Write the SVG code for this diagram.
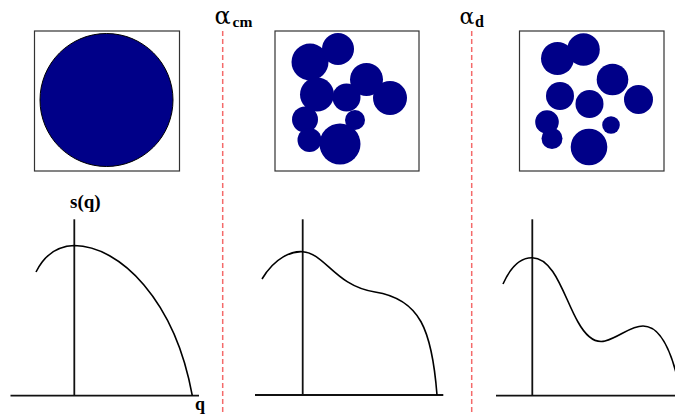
<svg xmlns="http://www.w3.org/2000/svg" width="675" height="415" viewBox="0 0 675 415">
<style>
.box{fill:#fff;stroke:#333;stroke-width:1.2}
.dot{fill:#000088}
.sep{stroke:#f46a6a;stroke-width:1.5;stroke-dasharray:5,3;fill:none}
.axis{stroke:#111;stroke-width:1.8;fill:none}
.curve{stroke:#000;stroke-width:1.6;fill:none}
.lbl{font-family:"Liberation Serif","Times New Roman",serif;font-weight:bold;fill:#000}
.alpha{font-family:"DejaVu Serif","Liberation Serif",serif;fill:#000}
</style>
<rect width="675" height="415" fill="#fff"/>
<g id="box-uniform">
<rect class="box" x="34.5" y="31" width="145" height="140"/>
<circle cx="106.5" cy="100" r="66.5" fill="#000088" stroke="#000" stroke-width="1"/>
</g>
<g id="box-clustered">
<rect class="box" x="275" y="31" width="144" height="140"/>
<circle class="dot" cx="310" cy="62" r="18.5"/>
<circle class="dot" cx="338" cy="49" r="16"/>
<circle class="dot" cx="366.5" cy="79.5" r="16.5"/>
<circle class="dot" cx="390" cy="98" r="17"/>
<circle class="dot" cx="346.5" cy="97.5" r="14"/>
<circle class="dot" cx="317" cy="94.5" r="17"/>
<circle class="dot" cx="305" cy="119.5" r="13"/>
<circle class="dot" cx="355" cy="120" r="10"/>
<circle class="dot" cx="309.5" cy="140" r="12"/>
<circle class="dot" cx="340" cy="144" r="20.5"/>
</g>
<g id="box-dispersed">
<rect class="box" x="519.5" y="31" width="144.5" height="140"/>
<circle class="dot" cx="557.5" cy="58.5" r="16.5"/>
<circle class="dot" cx="583.5" cy="49.5" r="16.3"/>
<circle class="dot" cx="612.5" cy="79.5" r="15.8"/>
<circle class="dot" cx="560" cy="96" r="14"/>
<circle class="dot" cx="589.5" cy="104" r="14"/>
<circle class="dot" cx="638.5" cy="99.5" r="14.5"/>
<circle class="dot" cx="547" cy="122" r="11.8"/>
<circle class="dot" cx="552" cy="138.5" r="10.5"/>
<circle class="dot" cx="611" cy="125" r="8.8"/>
<circle class="dot" cx="589" cy="147" r="18.3"/>
</g>
<g id="separators">
<line class="sep" x1="222.7" y1="31" x2="222.7" y2="415"/>
<line class="sep" x1="471.7" y1="31" x2="471.7" y2="415"/>
</g>
<g id="label-alpha-cm">
<text class="alpha" x="214.5" y="23.5" font-size="24">α</text>
<text class="lbl" x="232.5" y="26.5" font-size="15.5">cm</text>
</g>
<g id="label-alpha-d">
<text class="alpha" x="459.5" y="23.5" font-size="22">α</text>
<text class="lbl" x="475" y="26.5" font-size="16">d</text>
</g>
<g id="graph-1">
<line class="axis" x1="10.5" y1="395.7" x2="199" y2="395.7"/>
<line class="axis" x1="74.3" y1="219.3" x2="74.3" y2="395.7"/>
<path class="curve" d="M36,272 C44,256 56,246 74.3,245.5 C120,246 175,300 192.3,395.7"/>
<text class="lbl" x="70" y="208" font-size="19">s(q)</text>
<text class="lbl" x="195" y="410" font-size="18">q</text>
</g>
<g id="graph-2">
<line class="axis" x1="255" y1="395" x2="443.3" y2="395"/>
<line class="axis" x1="302.7" y1="219.3" x2="302.7" y2="395"/>
<path class="curve" d="M262,279 C275,257 292,251 302.7,251.7 C325,253 335,286 375,292 C420,299 432,330 437,395"/>
</g>
<g id="graph-3">
<line class="axis" x1="496" y1="395.7" x2="675" y2="395.7"/>
<line class="axis" x1="532.3" y1="219.3" x2="532.3" y2="395.7"/>
<path class="curve" d="M503,284 C511,266 521,257.5 532.3,257.7 C555,258 565,300 578,322 C588,340 597,343 605,341 C620,337 630,326 643,326 C660,326 672,350 680,390"/>
</g>
</svg>
